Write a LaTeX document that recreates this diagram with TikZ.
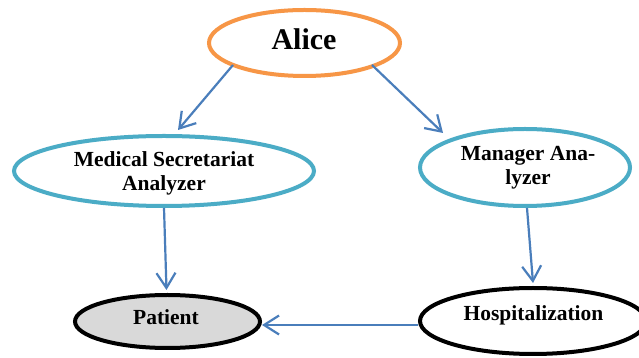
\documentclass[tikz,border=0pt]{standalone}
\usepackage{fontspec}
\setmainfont{Liberation Serif}
\usetikzlibrary{shapes.geometric,arrows.meta}
\definecolor{aliceorange}{HTML}{F79646}
\definecolor{tealline}{HTML}{4BACC6}
\definecolor{arrowblue}{HTML}{4A7EBB}
\definecolor{patientfill}{HTML}{D9D9D9}
\tikzset{
  ell/.style={ellipse, inner sep=0pt, line width=4pt},
  lbl/.style={font=\bfseries\fontsize{21.5}{24.3}\selectfont, inner sep=0pt, align=center},
  conn/.style={draw=arrowblue, line width=2.2pt, -{Straight Barb[length=15pt,width=19pt]}}
}
\begin{document}
\begin{tikzpicture}[x=1pt,y=1pt]
\useasboundingbox (0,0) rectangle (639,358);
\clip (0,0) rectangle (639,358);
\fill[white] (0,0) rectangle (639,358);
% ellipses
\node[ell, draw=aliceorange, fill=white, minimum width=191pt, minimum height=66pt] (alice) at (304.5,315) {};
\node[ell, draw=tealline, fill=white, minimum width=300pt, minimum height=70pt] (msa) at (164,187) {};
\node[ell, draw=tealline, fill=white, minimum width=210pt, minimum height=77pt] (mgr) at (525,190.5) {};
\node[ell, draw=black, fill=patientfill, minimum width=185pt, minimum height=53pt] (patient) at (167.5,36.5) {};
\node[ell, draw=black, fill=white, minimum width=226pt, minimum height=66pt] (hosp) at (533,37) {};
% texts
\node[font=\bfseries\fontsize{30}{34}\selectfont, inner sep=0pt, anchor=base] (alicetxt) at (304,308) {Alice};
\node[lbl, anchor=base] (msatxt) at (164,167) {Medical Secretariat\\Analyzer};
\node[lbl, anchor=base] (mgrtxt) at (528,173) {Manager Ana-\\lyzer};
\node[lbl, anchor=base] (patienttxt) at (166,33.7) {Patient};
\node[lbl, anchor=base] (hosptxt) at (533.5,37) {Hospitalization};
% connectors
\draw[conn] ([shift={(-71.5,-22)}]alice.center) -- ([shift={(14,41)}]msa.center);
\draw[conn] ([shift={(67.5,-22)}]alice.center) -- ([shift={(-82,34.5)}]mgr.center);
\draw[conn] (msa.south) -- ([shift={(-1,3)}]patient.north);
\draw[conn] ([xshift=2pt]mgr.south) -- ([yshift=3pt]hosp.north);
\draw[conn] ([yshift=-4pt]hosp.west) -- ([yshift=-3.5pt]patient.east);
\end{tikzpicture}
\end{document}
